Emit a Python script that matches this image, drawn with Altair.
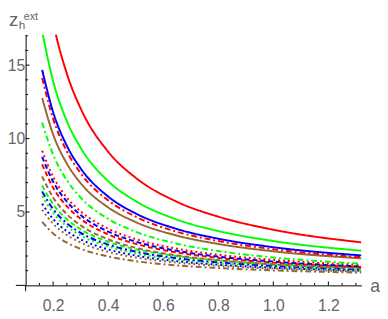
import altair as alt
import pandas as pd

# sample positions along a
A = [0.16, 0.2, 0.25, 0.3, 0.4, 0.5, 0.65, 0.8, 1.0, 1.32]

red_solid = [22.38, 17.95, 14.41, 12.05, 9.10, 7.33, 5.69, 4.68, 3.79, 2.93]
green_solid = [17.30, 13.90, 11.18, 9.37, 7.10, 5.74, 4.48, 3.70, 3.02, 2.36]
blue_solid = [14.68, 11.80, 9.50, 7.97, 6.05, 4.90, 3.84, 3.18, 2.60, 2.04]
brown_solid = [12.77, 10.28, 8.29, 6.96, 5.31, 4.31, 3.39, 2.82, 2.32, 1.84]
red_dotdash = [14.12, 11.34, 9.12, 7.64, 5.79, 4.68, 3.65, 3.02, 2.46, 1.92]
green_dotdash = [11.09, 8.90, 7.15, 5.98, 4.53, 3.65, 2.84, 2.34, 1.90, 1.48]
red_dotted = [9.17, 7.40, 5.98, 5.04, 3.86, 3.15, 2.50, 2.09, 1.74, 1.39]
blue_dashed = [8.76, 7.06, 5.70, 4.79, 3.66, 2.98, 2.35, 1.96, 1.62, 1.29]
red_dashed = [8.24, 6.65, 5.38, 4.53, 3.47, 2.83, 2.24, 1.87, 1.55, 1.25]
brown_dotdash = [7.42, 5.99, 4.85, 4.09, 3.14, 2.56, 2.04, 1.71, 1.42, 1.15]
green_dashed = [6.80, 5.52, 4.50, 3.82, 2.97, 2.46, 1.99, 1.70, 1.44, 1.19]
blue_dotdash = [6.39, 5.19, 4.22, 3.58, 2.78, 2.30, 1.85, 1.57, 1.33, 1.10]
green_dotted = [6.08, 4.93, 4.01, 3.40, 2.64, 2.18, 1.76, 1.50, 1.27, 1.04]
blue_dotted = [5.56, 4.52, 3.69, 3.14, 2.45, 2.03, 1.65, 1.41, 1.20, 1.00]
brown_dashed = [5.15, 4.20, 3.43, 2.92, 2.28, 1.90, 1.55, 1.33, 1.14, 0.95]
brown_dotted = [4.33, 3.54, 2.91, 2.49, 1.97, 1.65, 1.36, 1.18, 1.02, 0.87]

RED, GREEN, BLUE, BROWN = "#ff0000", "#00ff00", "#0000ff", "#996633"

CURVES = [
    ("brown_dotted", BROWN, "dotdash", brown_dotted),
    ("brown_dashed", BROWN, "dotted", brown_dashed),
    ("blue_dotted", BLUE, "dotted", blue_dotted),
    ("green_dotted", GREEN, "dotted", green_dotted),
    ("blue_dotdash", BLUE, "dotdash", blue_dotdash),
    ("green_dashed", GREEN, "dashed", green_dashed),
    ("brown_dotdash", BROWN, "dashed", brown_dotdash),
    ("red_dashed", RED, "dashed", red_dashed),
    ("blue_dashed", BLUE, "dashed", blue_dashed),
    ("red_dotted", RED, "dotted", red_dotted),
    ("green_dotdash", GREEN, "dotdash", green_dotdash),
    ("brown_solid", BROWN, "solid", brown_solid),
    ("red_dotdash", RED, "dotdash", red_dotdash),
    ("blue_solid", BLUE, "solid", blue_solid),
    ("green_solid", GREEN, "solid", green_solid),
    ("red_solid", RED, "solid", red_solid),
]

X_LABELS = [0.2, 0.4, 0.6, 0.8, 1.0, 1.2]
X_MINOR = [0.15, 0.25, 0.3, 0.35, 0.45, 0.5, 0.55, 0.65, 0.7, 0.75,
           0.85, 0.9, 0.95, 1.05, 1.1, 1.15, 1.25, 1.3]
Y_LABELS = [5, 10, 15]
Y_MINOR = [1, 2, 3, 4, 6, 7, 8, 9, 11, 12, 13, 14, 16, 17]

rows = []
for i, (name, color, style, vals) in enumerate(CURVES):
    for a, z in zip(A, vals):
        rows.append({"a": a, "z": z, "curve": name, "color": color,
                     "style": style, "k": i})
df = pd.DataFrame(rows)

W, H = 343, 256
FONT = "Liberation Sans"
GRAY = "#666666"

xs = alt.Scale(domain=[0.1, 1.32], nice=False, zero=False)
ys = alt.Scale(domain=[0, 17.07], nice=False, zero=False)

x_axis = alt.Axis(
    values=X_LABELS, format=".1f", ticks=False, tickSize=0, grid=False,
    domainColor="black", domainWidth=1, labelFont=FONT, labelFontSize=16,
    labelColor=GRAY, labelPadding=13, title=None)
y_axis = alt.Axis(
    values=Y_LABELS, ticks=False, tickSize=0, grid=False,
    domainColor="black", domainWidth=1, labelFont=FONT, labelFontSize=16,
    labelColor=GRAY, labelPadding=1, title=None)

X = alt.X("a:Q", scale=xs, axis=x_axis)
Y = alt.Y("z:Q", scale=ys, axis=y_axis)

lines = alt.Chart(df).mark_line(
    strokeWidth=2, clip=True, interpolate="monotone", strokeCap="butt"
).encode(
    x=X,
    y=Y,
    color=alt.Color("color:N", scale=None),
    strokeDash=alt.StrokeDash("style:N", scale=alt.Scale(
        domain=["solid", "dashed", "dotted", "dotdash"],
        range=[[1, 0], [5, 3], [2, 3], [6, 3, 2, 3]]), legend=None),
    detail="curve:N",
    order="k:Q",
)

xmaj = alt.Chart(pd.DataFrame({"a": X_LABELS})).mark_rule(color="black").encode(
    x=X, y=alt.value(H), y2=alt.value(H - 4))
xmin = alt.Chart(pd.DataFrame({"a": X_MINOR})).mark_rule(color="black").encode(
    x=X, y=alt.value(H), y2=alt.value(H - 2.5))
ymaj = alt.Chart(pd.DataFrame({"z": Y_LABELS})).mark_rule(color="black").encode(
    y=Y, x=alt.value(0), x2=alt.value(4))
ymin = alt.Chart(pd.DataFrame({"z": Y_MINOR})).mark_rule(color="black").encode(
    y=Y, x=alt.value(0), x2=alt.value(2.5))

one = pd.DataFrame({"t": ["z"]})
ext_x = alt.Chart(one).mark_rule(color="black").encode(
    x=alt.value(-10), x2=alt.value(0), y=alt.value(H))
ext_y = alt.Chart(one).mark_rule(color="black").encode(
    x=alt.value(0), y=alt.value(H), y2=alt.value(H + 6))

def label(txt, x, y, size):
    return alt.Chart(pd.DataFrame({"t": [txt]})).mark_text(
        align="left", baseline="alphabetic", font=FONT, fontSize=size,
        color=GRAY).encode(x=alt.value(x), y=alt.value(y), text="t:N")

z_lab = label("z", -17, -9, 19)
h_lab = label("h", -7, -6, 12)
ext_lab = label("ext", -2, -15, 11)
a_lab = label("a", W + 9, H + 7, 18)

chart = alt.layer(
    lines, xmaj, xmin, ymaj, ymin, ext_x, ext_y, z_lab, h_lab, ext_lab, a_lab
).properties(
    width=W, height=H,
    padding={"left": 18, "top": 24, "right": 19, "bottom": 31},
    autosize=alt.AutoSizeParams(type="none"),
).configure_view(stroke=None)

chart.save("out.html", embed_options={"renderer": "svg", "actions": False})
